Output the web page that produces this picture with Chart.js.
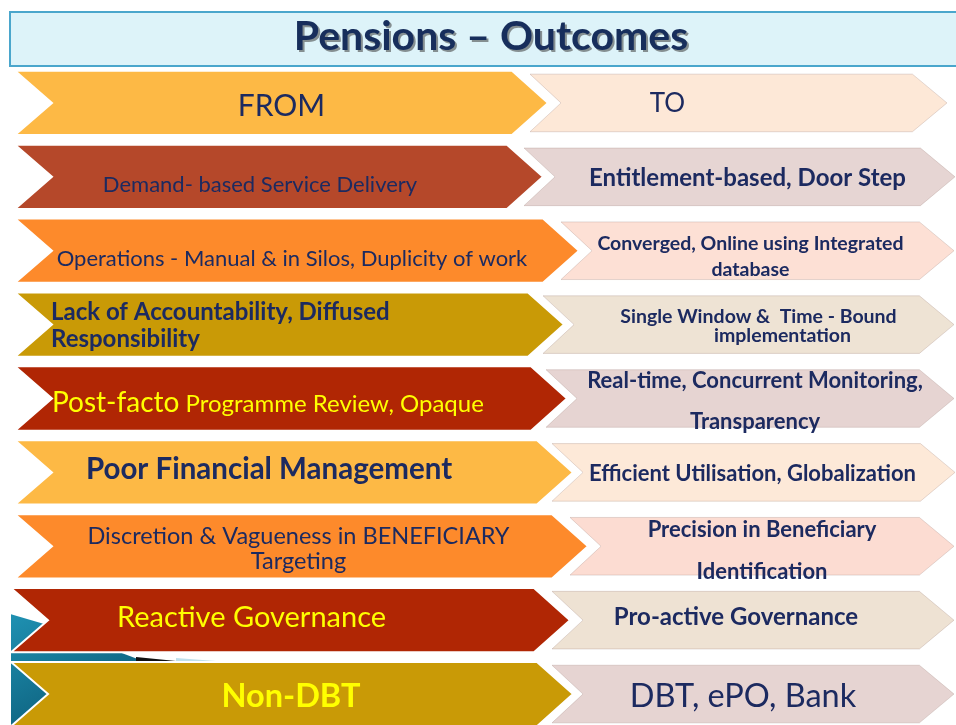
<!DOCTYPE html>
<html>
<head>
<meta charset="utf-8">
<title>Pensions – Outcomes</title>
<script src="https://cdn.jsdelivr.net/npm/chart.js@4.4.1/dist/chart.umd.min.js"></script>
<style>
    html, body { margin: 0; padding: 0; background: #fff; overflow: hidden; }
    #chart { display: block; }
</style>
</head>
<body>
<canvas id="chart" width="956" height="732"></canvas>
<script>
    // rows of the slide, top to bottom
    const rowNames = ['Header', 'Delivery', 'Operations', 'Accountability', 'Review', 'Finance', 'Targeting', 'Governance', 'Transfers'];

    // floating bar ends on a 0..956 axis: "from" arrow and "to" arrow
    const fromStart = [15, 15, 15, 15, 15, 15, 15, 11, 11];
    const fromTip = [548, 543, 579, 564, 567, 573, 588, 570, 573];
    const toStart = [530, 524, 561, 543, 546, 552, 570, 552, 552];
    const toTip = [947, 955, 954, 954, 954, 955, 954, 954, 954];

    const fromLines = [
        ['FROM'],
        ['Demand- based Service Delivery'],
        ['Operations - Manual & in Silos, Duplicity of work'],
        ['Lack of Accountability, Diffused', 'Responsibility'],
        [['Post-facto', ' Programme Review, Opaque']],
        ['Poor Financial Management'],
        ['Discretion & Vagueness in BENEFICIARY', 'Targeting'],
        ['Reactive Governance'],
        ['Non-DBT'],
    ];
    const toLines = [
        ['TO'],
        ['Entitlement-based, Door Step'],
        ['Converged, Online using Integrated', 'database'],
        ['Single Window &  Time - Bound', 'implementation'],
        ['Real-time, Concurrent Monitoring,', 'Transparency'],
        ['Efficient Utilisation, Globalization'],
        ['Precision in Beneficiary', 'Identification'],
        ['Pro-active Governance'],
        ['DBT, ePO, Bank'],
    ];

    const TITLE = 'Pensions – Outcomes';
    const FONT = 'Lato';
    const NAVY = '#1c2a60';
    const YELLOW = '#ffff00';

    const fromFill = ['#fdb945', '#b5482a', '#fd8a2b', '#c99a06', '#b02604', '#fdb945', '#fd8a2b', '#b02604', '#c99a06'];
    const toFill = ['#fde8d7', '#e6d5d3', '#fde0d5', '#eee3d4', '#e6d4d2', '#fde9d8', '#fcdcd2', '#eee2d3', '#e6d4d2'];

    // text style per row: size, weight, colour, per-line offsets from the arrow centre
    const fromStyle = [
        { size: 30, weight: 400, color: NAVY, dx: [0], dy: [2] },
        { size: 22, weight: 400, color: NAVY, dx: [-19], dy: [7] },
        { size: 22, weight: 400, color: NAVY, dx: [-5], dy: [7] },
        { size: 24, weight: 700, color: NAVY, align: 'left', inset: 36, dy: [-13, 14] },
        { runSizes: [28, 24], weight: 400, color: YELLOW, align: 'left', inset: 37, dy: [3] },
        { size: 29.5, weight: 700, color: NAVY, dx: [-25], dy: [-4] },
        { size: 23.5, weight: 400, color: NAVY, dx: [-3, -3], dy: [-11, 14] },
        { size: 29, weight: 400, color: YELLOW, dx: [-39], dy: [-4] },
        { size: 32.5, weight: 700, color: YELLOW, dx: [-1], dy: [1] },
    ];
    const toStyle = [
        { size: 26, weight: 400, color: NAVY, dx: [-71], dy: [0] },
        { size: 24, weight: 700, color: NAVY, dx: [8], dy: [1] },
        { size: 19.5, weight: 700, color: NAVY, dx: [-7, -7], dy: [-8, 18] },
        { size: 19.5, weight: 700, color: NAVY, dx: [10, 34], dy: [-9, 10] },
        { size: 22, weight: 700, color: NAVY, dx: [5, 5], dy: [-18, 23] },
        { size: 22, weight: 700, color: NAVY, dx: [-1], dy: [1] },
        { size: 22, weight: 700, color: NAVY, dx: [0, 0], dy: [-17, 25] },
        { size: 24, weight: 700, color: NAVY, dx: [-17], dy: [-4] },
        { size: 32.5, weight: 400, color: NAVY, dx: [-10], dy: [1] },
    ];

    function chevronPath(ctx, el, notch, tipRatio) {
        const top = el.y - el.height / 2;
        const bottom = el.y + el.height / 2;
        const tip = el.height * tipRatio;
        ctx.beginPath();
        ctx.moveTo(el.base, top);
        ctx.lineTo(el.x - tip, top);
        ctx.lineTo(el.x, el.y);
        ctx.lineTo(el.x - tip, bottom);
        ctx.lineTo(el.base, bottom);
        ctx.lineTo(el.base + notch, el.y);
        ctx.closePath();
    }

    function drawLines(ctx, lines, st, el) {
        const cx = (el.base + el.x) / 2;
        lines.forEach((line, j) => {
            const runs = Array.isArray(line) ? line : [line];
            const sizes = st.runSizes || runs.map(() => st.size);
            const fonts = runs.map((r, k) => `${st.weight} ${sizes[k]}px ${FONT}`);
            const widths = runs.map((r, k) => { ctx.font = fonts[k]; return ctx.measureText(r).width; });
            const total = widths.reduce((a, b) => a + b, 0);
            const big = Math.max(...sizes);
            let x = st.align === 'left' ? el.base + st.inset : cx + (st.dx[j] || 0) - total / 2;
            const y = el.y + st.dy[j] + big * 0.36;
            ctx.textAlign = 'left';
            ctx.textBaseline = 'alphabetic';
            ctx.fillStyle = st.color;
            runs.forEach((r, k) => { ctx.font = fonts[k]; ctx.fillText(r, x, y); x += widths[k]; });
        });
    }

    const slidePlugin = {
        id: 'slide',
        beforeDraw(chart) {
            const ctx = chart.ctx;
            const area = chart.chartArea;
            ctx.save();
            ctx.fillStyle = '#fff';
            ctx.fillRect(0, 0, chart.width, chart.height);

            // title box
            ctx.fillStyle = '#ddf3f9';
            ctx.fillRect(10, 12, chart.width - 8, area.top - 12);
            ctx.strokeStyle = '#4aa6cc';
            ctx.lineWidth = 2;
            ctx.strokeRect(10, 12, chart.width, area.top - 12);

            ctx.font = `700 41px ${FONT}`;
            ctx.textAlign = 'center';
            ctx.textBaseline = 'middle';
            ctx.shadowColor = 'rgba(60,60,60,0.55)';
            ctx.shadowOffsetX = 2;
            ctx.shadowOffsetY = 2;
            ctx.fillStyle = '#172e5c';
            ctx.fillText(TITLE, 491, (12 + area.top) / 2 - 2);
            ctx.restore();

            // teal slide background peeking through the lower notches
            const rows = chart.getDatasetMeta(0).data;
            const r7 = rows[7], r8 = rows[8];
            const x0 = r7.base;
            const g = ctx.createLinearGradient(x0, r7.y, x0 + 60, chart.height);
            g.addColorStop(0, '#1e8fb0');
            g.addColorStop(1, '#0c5c78');
            ctx.save();
            ctx.fillStyle = g;
            ctx.beginPath();
            ctx.moveTo(x0, r7.y - 6);
            ctx.lineTo(x0 + 34, r7.y + 4);
            ctx.lineTo(x0 + 140, r8.y - r8.height / 2 + 2);
            ctx.lineTo(x0 + 140, chart.height);
            ctx.lineTo(x0, chart.height);
            ctx.closePath();
            ctx.fill();
            const gapY = r8.y - r8.height / 2;
            ctx.fillStyle = '#111';
            ctx.beginPath();
            ctx.moveTo(x0 + 125, gapY - 5);
            ctx.lineTo(x0 + 165, gapY - 1);
            ctx.lineTo(x0 + 125, gapY);
            ctx.closePath();
            ctx.fill();
            ctx.fillStyle = '#bfe0ec';
            ctx.beginPath();
            ctx.moveTo(x0 + 165, gapY - 4);
            ctx.lineTo(x0 + 205, gapY - 1);
            ctx.lineTo(x0 + 165, gapY);
            ctx.closePath();
            ctx.fill();
            ctx.restore();
        },
        beforeDatasetDraw(chart, args) {
            const ctx = chart.ctx;
            const isFrom = args.index === 0;
            ctx.save();
            args.meta.data.forEach((el, i) => {
                if (isFrom) {
                    chevronPath(ctx, el, 37, 0.56);
                    ctx.fillStyle = fromFill[i];
                    ctx.fill();
                    ctx.strokeStyle = '#ffffff';
                    ctx.lineWidth = 2;
                    ctx.stroke();
                } else {
                    chevronPath(ctx, el, 31, 0.6);
                    ctx.fillStyle = toFill[i];
                    ctx.fill();
                    ctx.strokeStyle = 'rgba(150,120,110,0.25)';
                    ctx.lineWidth = 1;
                    ctx.stroke();
                }
            });
            ctx.restore();
            return false;
        },
        afterDatasetsDraw(chart) {
            const ctx = chart.ctx;
            const fromEls = chart.getDatasetMeta(0).data;
            const toEls = chart.getDatasetMeta(1).data;
            ctx.save();
            fromEls.forEach((el, i) => drawLines(ctx, fromLines[i], fromStyle[i], el));
            toEls.forEach((el, i) => drawLines(ctx, toLines[i], toStyle[i], el));
            ctx.restore();
        },
    };

    new Chart(document.getElementById('chart'), {
        type: 'bar',
        data: {
            labels: rowNames,
            datasets: [
                {
                    label: 'From',
                    data: fromStart.map((s, i) => [s, fromTip[i]]),
                    backgroundColor: fromFill,
                    barPercentage: 0.87,
                    categoryPercentage: 1,
                    grouped: false,
                },
                {
                    label: 'To',
                    data: toStart.map((s, i) => [s, toTip[i]]),
                    backgroundColor: toFill,
                    barPercentage: 0.78,
                    categoryPercentage: 1,
                    grouped: false,
                },
            ],
        },
        options: {
            indexAxis: 'y',
            responsive: false,
            animation: false,
            layout: { padding: { top: 66, bottom: 1, left: 0, right: 0 } },
            scales: {
                x: { type: 'linear', min: 0, max: 956, display: false },
                y: { display: false },
            },
            plugins: { legend: { display: false }, tooltip: { enabled: false } },
        },
        plugins: [slidePlugin],
    });
</script>
</body>
</html>
